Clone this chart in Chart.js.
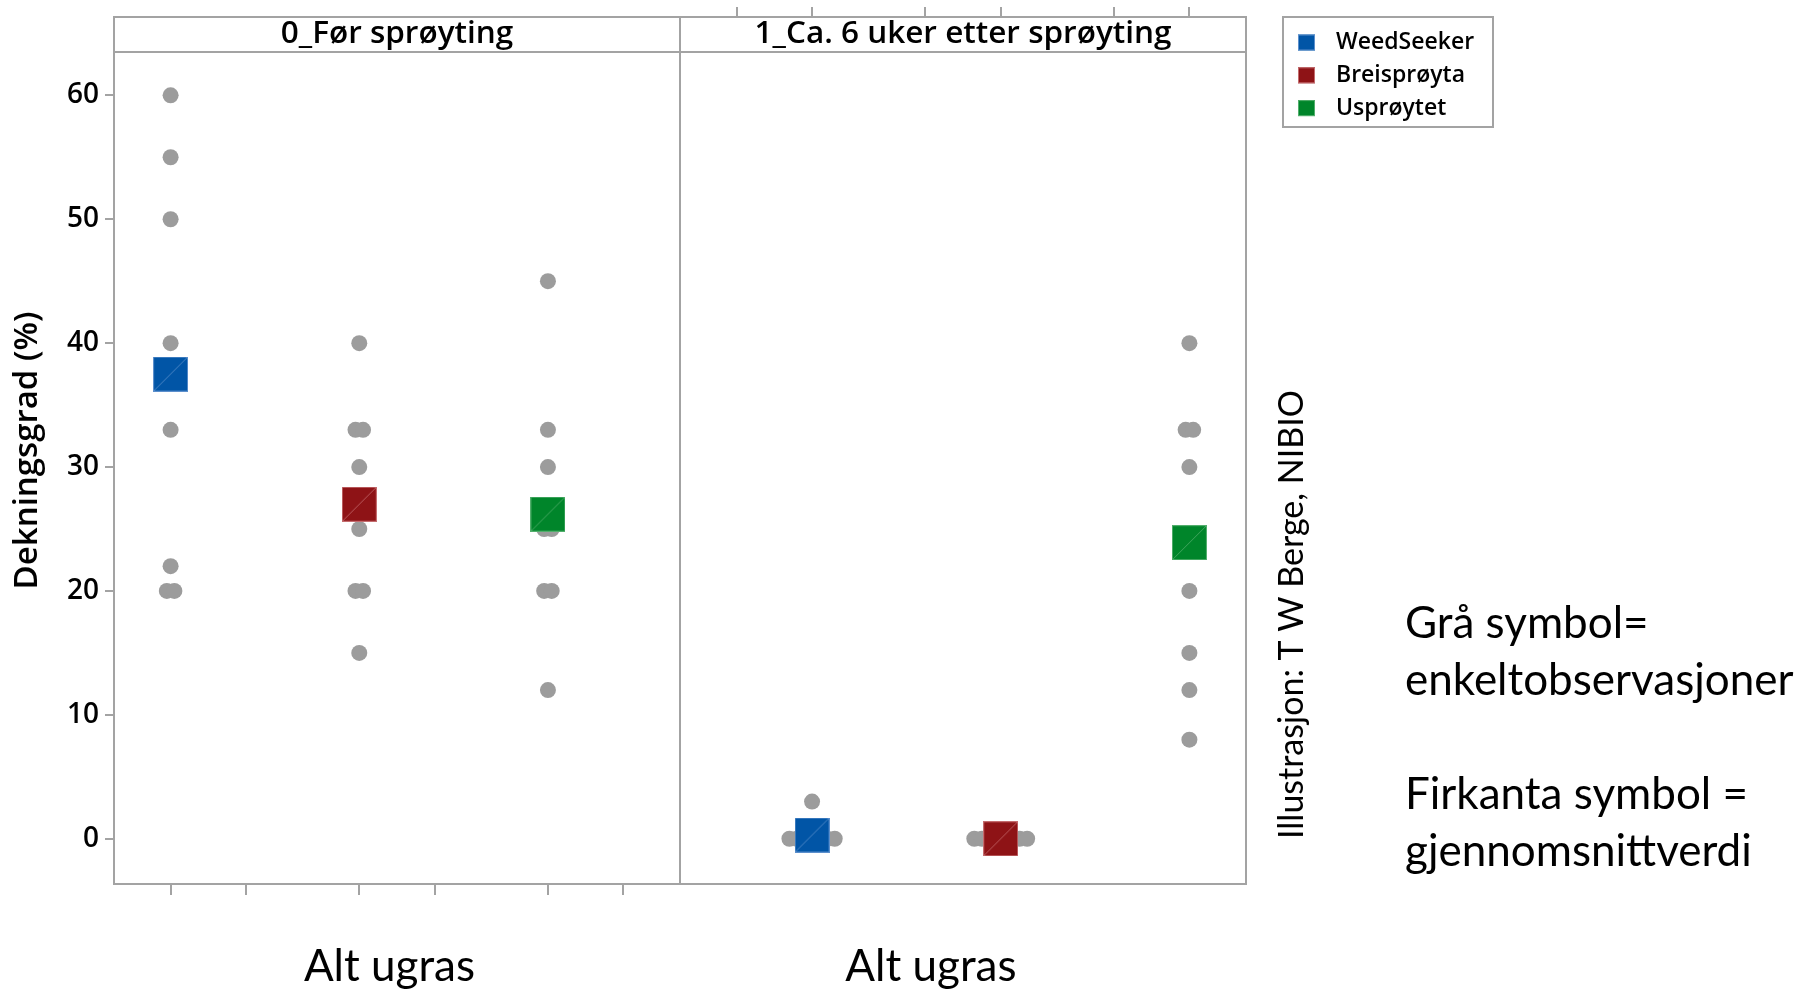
<!DOCTYPE html>
<html>
<head>
<meta charset="utf-8">
<script src="https://cdn.jsdelivr.net/npm/chart.js@4/dist/chart.umd.min.js"></script>
<style>
  html, body { margin: 0; padding: 0; background: #ffffff; }
  #wrap { position: relative; width: 1806px; height: 991px; }
  canvas { display: block; }
</style>
</head>
<body>
<div id="wrap"><canvas id="c" width="1806" height="991"></canvas></div>
<script>
// Panels (time of registration), group label under each panel, treatments
const panels = ['0_Før sprøyting', '1_Ca. 6 uker etter sprøyting'];
const groupLabels = ['Alt ugras', 'Alt ugras'];
const treatments = ['WeedSeeker', 'Breisprøyta', 'Usprøytet'];
const treatmentColors = ['#0155A6', '#8E1316', '#00852A'];
const treatmentEdges = ['#5C8FCC', '#C46C6E', '#52AE6C'];

// Single observations, weed cover (%)
const beforeWeedSeeker = [60, 55, 50, 40, 33, 22, 20, 20];
const beforeBreisproyta = [40, 33, 33, 30, 25, 20, 20, 15];
const beforeUsproytet = [45, 33, 30, 25, 25, 20, 20, 12];
const afterWeedSeeker = [3, 0, 0, 0, 0, 0, 0, 0];
const afterBreisproyta = [0, 0, 0, 0, 0, 0, 0, 0];
const afterUsproytet = [40, 33, 33, 30, 20, 15, 12, 8];

// Mean per treatment (square symbols)
const meanBefore = [37.5, 27.0, 26.2];
const meanAfter = [0.3, 0.0, 23.9];

const yTicks = [0, 10, 20, 30, 40, 50, 60];

const notes = ['Grå symbol=', 'enkeltobservasjoner', '', 'Firkanta symbol =', 'gjennomsnittverdi'];
const credit = 'Illustrasjon: T W Berge, NIBIO';

// ---- layout helpers ----
// Each panel spans 3 slots on the x scale; categories sit 0.3 / 0.7 into a slot.
const SLOTS = 3;
const catOffset = [0.3, 0.7];
const xPos = (p, i) => p * SLOTS + i + catOffset[p];
const JITTER = 0.04;           // side-by-side spacing for tied observations
const STRIP_H = 35;            // height of the panel header strip
const groupLabelX = [1.46, 1.33];
const FRAME = '#A3A3A3';
const CHART_FONT = 'Open Sans';
const NOTE_FONT = 'Lato';

const observations = [
  [beforeWeedSeeker, beforeBreisproyta, beforeUsproytet],
  [afterWeedSeeker, afterBreisproyta, afterUsproytet]
];
const means = [meanBefore, meanAfter];

function spread(values, center) {
  const groups = {};
  values.forEach(v => { (groups[v] = groups[v] || []).push(v); });
  const pts = [];
  Object.keys(groups).forEach(k => {
    const g = groups[k];
    g.forEach((v, j) => pts.push({ x: center + (j - (g.length - 1) / 2) * JITTER, y: v }));
  });
  return pts;
}

const obsPoints = [];
observations.forEach((panel, p) => panel.forEach((vals, i) => {
  obsPoints.push(...spread(vals, xPos(p, i)));
}));

function squareSymbol(color, edge, size) {
  const cv = document.createElement('canvas');
  cv.width = size; cv.height = size;
  const g = cv.getContext('2d');
  g.fillStyle = color;
  g.fillRect(0, 0, size, size);
  g.strokeStyle = edge;
  g.lineWidth = 1;
  g.strokeRect(0.5, 0.5, size - 1, size - 1);
  g.lineWidth = 0.8;
  g.beginPath();
  g.moveTo(1, size - 1);
  g.lineTo(size - 1, 1);
  g.stroke();
  return cv;
}

const meanDatasets = treatments.map((name, t) => ({
  label: name,
  data: means.map((m, p) => ({ x: xPos(p, t), y: m[t] })),
  pointStyle: squareSymbol(treatmentColors[t], treatmentEdges[t], 35),
  order: 0
}));

const obsDataset = {
  label: 'Enkeltobservasjoner',
  data: obsPoints,
  pointStyle: 'circle',
  pointRadius: 8,
  backgroundColor: '#9C9C9C',
  borderWidth: 0,
  order: 1
};

const panelPlugin = {
  id: 'panels',
  beforeDatasetsDraw(chart) {
    const { ctx, chartArea: a, scales: { x } } = chart;
    ctx.save();
    ctx.strokeStyle = FRAME;
    ctx.lineWidth = 2;
    ctx.strokeRect(a.left, a.top, a.right - a.left, a.bottom - a.top);
    const xd = Math.round(x.getPixelForValue(SLOTS));
    ctx.beginPath();
    ctx.moveTo(xd, a.top); ctx.lineTo(xd, a.bottom);
    ctx.moveTo(a.left, a.top + STRIP_H); ctx.lineTo(a.right, a.top + STRIP_H);
    ctx.stroke();
    ctx.fillStyle = '#000';
    ctx.textAlign = 'center';
    ctx.textBaseline = 'middle';
    ctx.font = '600 31.5px "' + CHART_FONT + '"';
    panels.forEach((txt, p) => {
      const cx = (x.getPixelForValue(p * SLOTS) + x.getPixelForValue((p + 1) * SLOTS)) / 2;
      ctx.fillText(txt, cx, a.top + STRIP_H / 2);
    });
    // group labels under each panel
    ctx.font = '44px "' + NOTE_FONT + '"';
    ctx.textBaseline = 'alphabetic';
    groupLabels.forEach((txt, p) => {
      ctx.fillText(txt, x.getPixelForValue(p * SLOTS + groupLabelX[p]), 981);
    });
    ctx.restore();
  },
  afterDraw(chart) {
    const { ctx } = chart;
    ctx.save();
    // legend box
    const lx = 1283, ly = 17, lw = 210, lh = 110;
    ctx.strokeStyle = FRAME;
    ctx.lineWidth = 2;
    ctx.strokeRect(lx, ly, lw, lh);
    ctx.font = '600 23px "' + CHART_FONT + '"';
    ctx.textAlign = 'left';
    ctx.textBaseline = 'middle';
    treatments.forEach((name, t) => {
      const cy = 42.5 + t * 32.8;
      ctx.fillStyle = treatmentColors[t];
      ctx.fillRect(1298, cy - 8, 17, 16);
      ctx.strokeStyle = treatmentEdges[t];
      ctx.lineWidth = 1;
      ctx.strokeRect(1298.5, cy - 7.5, 16, 15);
      ctx.fillStyle = '#000';
      ctx.fillText(name, 1336, cy);
    });
    // credit line, rotated
    ctx.save();
    ctx.translate(1303, 614.5);
    ctx.rotate(-Math.PI / 2);
    ctx.font = '34px "' + NOTE_FONT + '"';
    ctx.textAlign = 'center';
    ctx.textBaseline = 'alphabetic';
    ctx.fillText(credit, 0, 0);
    ctx.restore();
    // explanation notes
    ctx.font = '44px "' + NOTE_FONT + '"';
    ctx.textAlign = 'left';
    ctx.textBaseline = 'alphabetic';
    notes.forEach((line, k) => { if (line) ctx.fillText(line, 1405, 638 + k * 57); });
    ctx.restore();
  }
};

new Chart(document.getElementById('c'), {
  type: 'scatter',
  data: { datasets: [...meanDatasets, obsDataset] },
  options: {
    responsive: false,
    animation: false,
    events: [],
    layout: { padding: { left: 0, right: 560, top: 0, bottom: 0 } },
    plugins: { legend: { display: false }, tooltip: { enabled: false } },
    scales: {
      x: {
        type: 'linear', position: 'bottom', min: 0, max: 2 * SLOTS,
        afterBuildTicks: s => { s.ticks = [0, 1, 2].flatMap(i => [xPos(0, i), xPos(0, i) + 0.4]).map(v => ({ value: v })); },
        afterFit: s => { s.height = 107; },
        grid: { drawOnChartArea: false, drawTicks: true, tickLength: 11, color: FRAME, lineWidth: 2 },
        border: { display: false },
        ticks: { display: false }
      },
      x2: {
        type: 'linear', position: 'top', min: 0, max: 2 * SLOTS,
        afterBuildTicks: s => { s.ticks = [0, 1, 2].flatMap(i => [xPos(1, i) - 0.4, xPos(1, i)]).map(v => ({ value: v })); },
        afterFit: s => { s.height = 17; },
        grid: { drawOnChartArea: false, drawTicks: true, tickLength: 10, color: FRAME, lineWidth: 2 },
        border: { display: false },
        ticks: { display: false }
      },
      y: {
        min: -3.65, max: 66.32,
        afterBuildTicks: s => { s.ticks = yTicks.map(v => ({ value: v })); },
        afterFit: s => { s.width = 114; s.paddingTop = 0; s.paddingBottom = 0; },
        grid: { drawOnChartArea: false, drawTicks: true, tickLength: 9, color: FRAME, lineWidth: 2 },
        border: { display: false },
        ticks: { color: '#000', padding: 6, font: { family: CHART_FONT, size: 28, weight: '600' } },
        title: {
          display: true, text: 'Dekningsgrad (%)', color: '#000',
          font: { family: CHART_FONT, size: 33, weight: '600' },
          padding: { top: 8, bottom: 0 }
        }
      }
    }
  },
  plugins: [panelPlugin]
});
</script>
</body>
</html>
